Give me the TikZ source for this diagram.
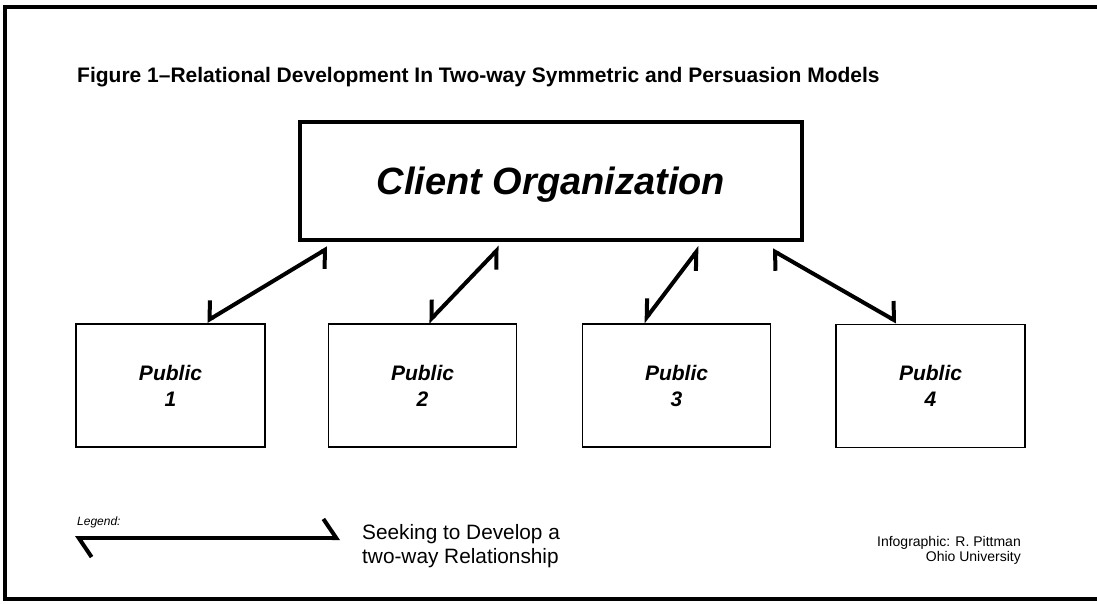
\documentclass[tikz,border=0pt]{standalone}
\usepackage{fontspec}
\setmainfont{Liberation Sans}
\usetikzlibrary{arrows.meta}
\newcommand{\fsize}[2]{\fontsize{#1}{#2}\selectfont}

\begin{document}
\begin{tikzpicture}[x=1pt,y=-1pt,
  public/.style={draw,line width=1.5pt,minimum width=188pt,minimum height=123pt,
    align=center,font=\bfseries\itshape\fsize{21}{26}},
  link/.style={line width=4pt,
    arrows={Straight Barb[harpoon,#1]-Straight Barb[harpoon,#1]}}]
\useasboundingbox (0,0) rectangle (1097,603);
% frame, open on the right
\draw[line width=4pt] (1110,7) -- (5,7) -- (5,599) -- (1110,599);

\node[anchor=base west,inner sep=0,font=\bfseries\fsize{21}{25}] (title) at (77,82)
  {Figure 1--Relational Development In Two-way Symmetric and Persuasion Models};

\node[draw,line width=4pt,minimum width=502pt,minimum height=118pt,text depth=0pt,
  font=\bfseries\itshape\fsize{38}{44}] (client) at (551,181) {Client Organization};

\node[public,minimum width=189pt] (pub1) at (170.5,385.5) {Public\\1};
\node[public] (pub2) at (422.5,385.5) {Public\\2};
\node[public] (pub3) at (676.5,385.5) {Public\\3};
\node[public,minimum width=189pt] (pub4) at (930.5,386) {Public\\4};

% two-way links, barbs kept upright
\draw[link={swap,angle=116:19pt}] ([xshift=36pt,yshift=2pt]pub1.north) -- ([xshift=-223pt,yshift=-6pt]client.south);
\draw[link={swap,angle=86:19pt}] ([xshift=5.5pt,yshift=1pt]pub2.north) -- ([xshift=-51pt,yshift=-5pt]client.south);
\draw[link={swap,angle=72:19pt}] ([xshift=-33.5pt,yshift=1pt]pub3.north) -- ([xshift=149pt,yshift=-5pt]client.south);
\draw[link={angle=118:19pt}] ([xshift=-33.5pt,yshift=2pt]pub4.north) -- ([xshift=221pt,yshift=-8pt]client.south);

% legend
\node[anchor=base west,inner sep=0,font=\itshape\fsize{12}{14}] (legend) at (77,525) {Legend:};
\coordinate (legR) at (340,538);
\coordinate (legL) at (75,538);
\draw[link={angle=112:23pt}] (legR) -- (legL);
\node[anchor=base west,inner sep=0,align=left,font=\fsize{20.8}{24}] (note) at (362,563)
  {Seeking to Develop a\\two-way Relationship};

\node[anchor=base east,inner sep=0,align=right,font=\fsize{14}{13}] (credit) at (1021,561)
  {Infographic: R. Pittman\\Ohio University};
\end{tikzpicture}
\end{document}
